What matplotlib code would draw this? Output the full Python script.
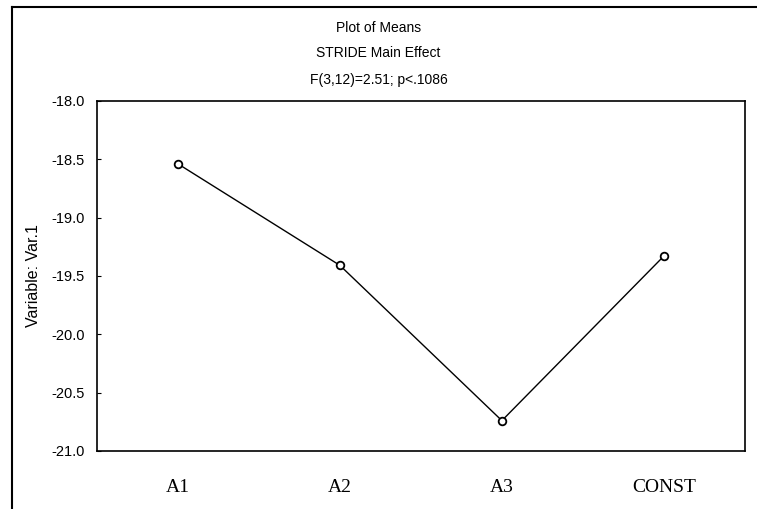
import matplotlib
matplotlib.use("Agg")
import matplotlib.pyplot as plt
from matplotlib.lines import Line2D

# Data
levels = ["A1", "A2", "A3", "CONST"]
means = [-18.54, -19.41, -20.74, -19.33]
y_ticks = [-18.0, -18.5, -19.0, -19.5, -20.0, -20.5, -21.0]

fig = plt.figure(figsize=(7.57, 5.09), dpi=100)
ax = fig.add_axes([0.128, 0.114, 0.856, 0.688])

x = list(range(len(levels)))
ax.plot(x, means, color="black", linewidth=1.0, marker="o", markersize=5.5,
        markerfacecolor="white", markeredgecolor="black", markeredgewidth=1.3)

ax.set_xlim(-0.5, len(levels) - 0.5)
ax.set_ylim(-21.0, -18.0)
ax.set_yticks(y_ticks)
ax.set_yticklabels([f"{v:.1f}" for v in y_ticks], family="Liberation Sans", fontsize=10.5)
ax.set_xticks(x)
ax.set_xticklabels(levels, family="Liberation Serif", fontsize=14)
ax.tick_params(axis="x", length=0, pad=20)
ax.tick_params(axis="y", direction="in", length=3, width=0.8, pad=9)

for s in ax.spines.values():
    s.set_linewidth(1.2)

ax.set_ylabel("Variable: Var.1", family="Liberation Sans", fontsize=11.5, labelpad=7)

# Three-line title
fig.text(0.5, 1 - 28 / 509, "Plot of Means", ha="center", va="center",
         family="Liberation Sans", fontsize=10)
fig.text(0.5, 1 - 53 / 509, "STRIDE Main Effect", ha="center", va="center",
         family="Liberation Sans", fontsize=10)
fig.text(0.5, 1 - 80 / 509, "F(3,12)=2.51; p<.1086", ha="center", va="center",
         family="Liberation Sans", fontsize=10)

# Outer frame (top and left edges)
fig.add_artist(Line2D([12 / 757, 1.0], [1 - 7 / 509, 1 - 7 / 509],
                      transform=fig.transFigure, color="black", linewidth=1.5))
fig.add_artist(Line2D([12 / 757, 12 / 757], [0.0, 1 - 7 / 509],
                      transform=fig.transFigure, color="black", linewidth=1.5))

fig.savefig("out.png", dpi=100)
